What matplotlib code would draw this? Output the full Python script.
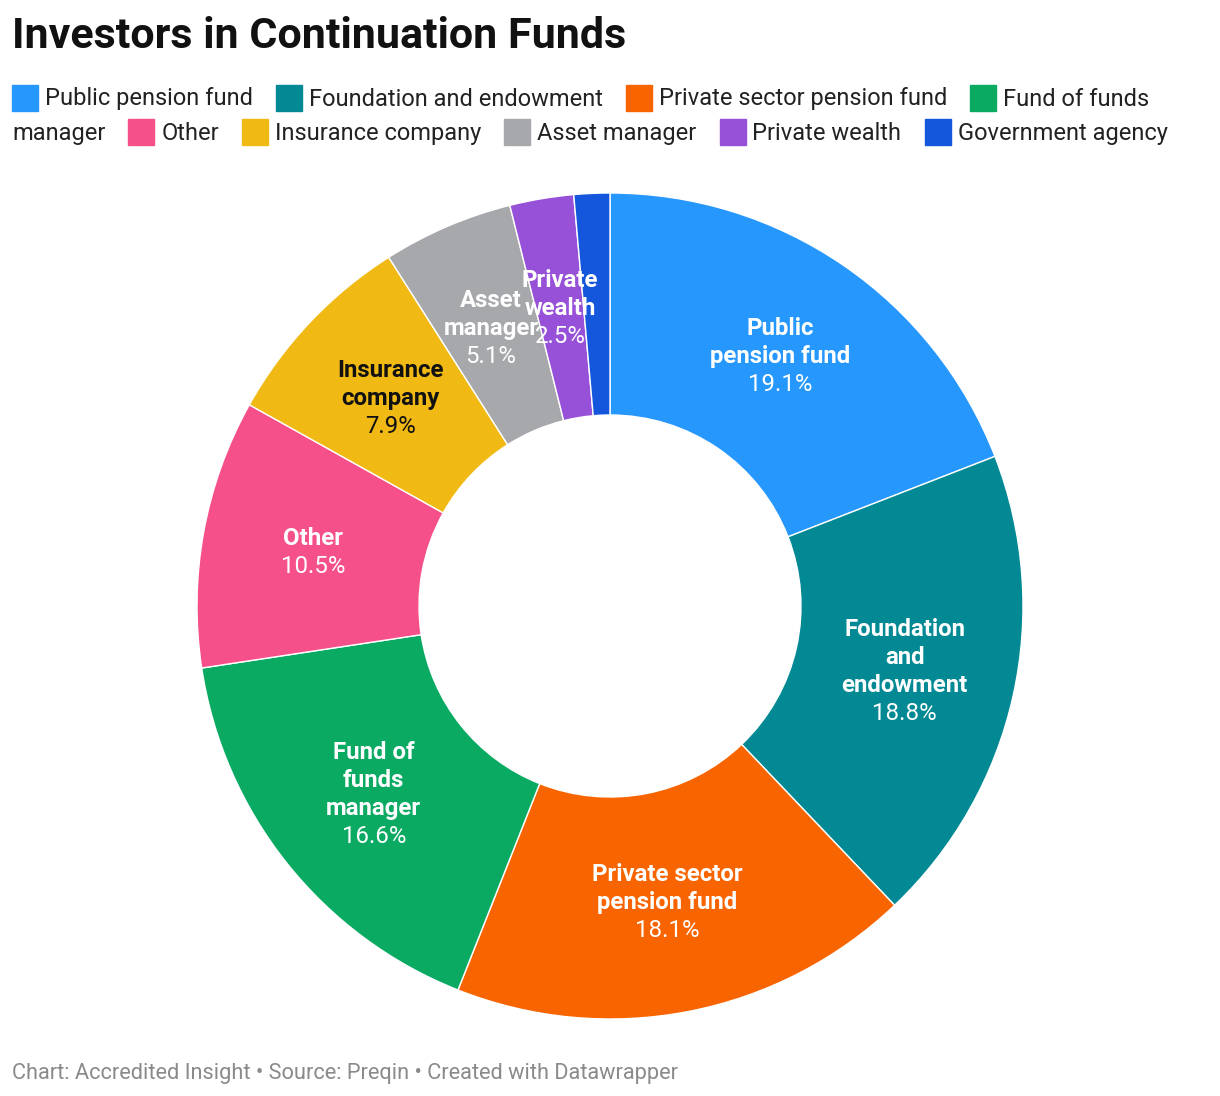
import matplotlib
matplotlib.use("Agg")
import matplotlib.pyplot as plt
import numpy as np

# slice data, clockwise from 12 o'clock
categories = ["Public pension fund", "Foundation and endowment", "Private sector pension fund",
              "Fund of funds manager", "Other", "Insurance company", "Asset manager",
              "Private wealth", "Government agency"]
shares = [19.1, 18.8, 18.1, 16.6, 10.5, 7.9, 5.1, 2.5, 1.4]
colors = ["#2597fd", "#038994", "#f86400", "#0aaa63", "#f5508a", "#f0b913", "#a6a8ab",
          "#9651d8", "#1456dc"]
# wrapped names inside the ring (None = no label)
slice_labels = ["Public\npension fund", "Foundation\nand\nendowment", "Private sector\npension fund",
                "Fund of\nfunds\nmanager", "Other", "Insurance\ncompany", "Asset\nmanager",
                "Private\nwealth", None]
label_colors = ["white", "white", "white", "white", "white", "#111111", "white", "white", "white"]

plt.rcParams["font.family"] = ["Roboto", "DejaVu Sans"]

W, H = 1220, 1096
fig = plt.figure(figsize=(W / 100, H / 100), dpi=100)
fig.patch.set_facecolor("white")

# title
fig.text(12 / W, 1 - 37 / H, "Investors in Continuation Funds", fontsize=31, fontweight="bold",
         va="center", ha="left", color="#111111")

# legend, flowed across two lines
legend_lines = [
    [(0, "Public pension fund"), (1, "Foundation and endowment"), (2, "Private sector pension fund"),
     (3, "Fund of funds")],
    [(None, "manager"), (4, "Other"), (5, "Insurance company"), (6, "Asset manager"),
     (7, "Private wealth"), (8, "Government agency")],
]
fig.canvas.draw()
renderer = fig.canvas.get_renderer()
sq = 26
for row, items in enumerate(legend_lines):
    yc = 99 + row * 34
    x = 12
    for idx, txt in items:
        if idx is not None:
            fig.patches.append(plt.Rectangle((x / W, 1 - (yc - 1 + sq / 2) / H), sq / W, sq / H,
                                             transform=fig.transFigure, color=colors[idx]))
            x += sq + 7
        t = fig.text(x / W, 1 - yc / H, txt, fontsize=17.0, va="center", ha="left", color="#222222")
        x += t.get_window_extent(renderer).width + 23

# footer
fig.text(12 / W, 1 - 1073 / H, "Chart: Accredited Insight \u2022 Source: Preqin \u2022 Created with Datawrapper",
         fontsize=15.7, color="#8a8a8a", va="center", ha="left")

# donut
cx, cy, R = 610, 606, 413
ax = fig.add_axes([(cx - R) / W, (H - cy - R) / H, 2 * R / W, 2 * R / H])
inner = 191 / R
wedges, _ = ax.pie(shares, colors=colors, startangle=90, counterclock=False, radius=1,
                   wedgeprops=dict(width=1 - inner, edgecolor="white", linewidth=1))
ax.set_xlim(-1, 1)
ax.set_ylim(-1, 1)
ax.set_aspect("equal")
ax.axis("off")

total = sum(shares)
rmid = (1 + inner) / 2
step = 28 / R
cum = 0
for val, name, lc in zip(shares, slice_labels, label_colors):
    mid = (cum + val / 2) / total * 2 * np.pi
    cum += val
    if name is None:
        continue
    lx, ly = rmid * np.sin(mid), rmid * np.cos(mid)
    lines = name.split("\n")
    n = len(lines) + 1
    top = ly + (n - 1) / 2 * step
    for i, ln in enumerate(lines):
        ax.text(lx, top - i * step, ln, ha="center", va="center", fontsize=17.3,
                fontweight="bold", color=lc)
    ax.text(lx, top - len(lines) * step, f"{val:.1f}%", ha="center", va="center",
            fontsize=17.3, color=lc)

fig.savefig("out.png", dpi=100)
